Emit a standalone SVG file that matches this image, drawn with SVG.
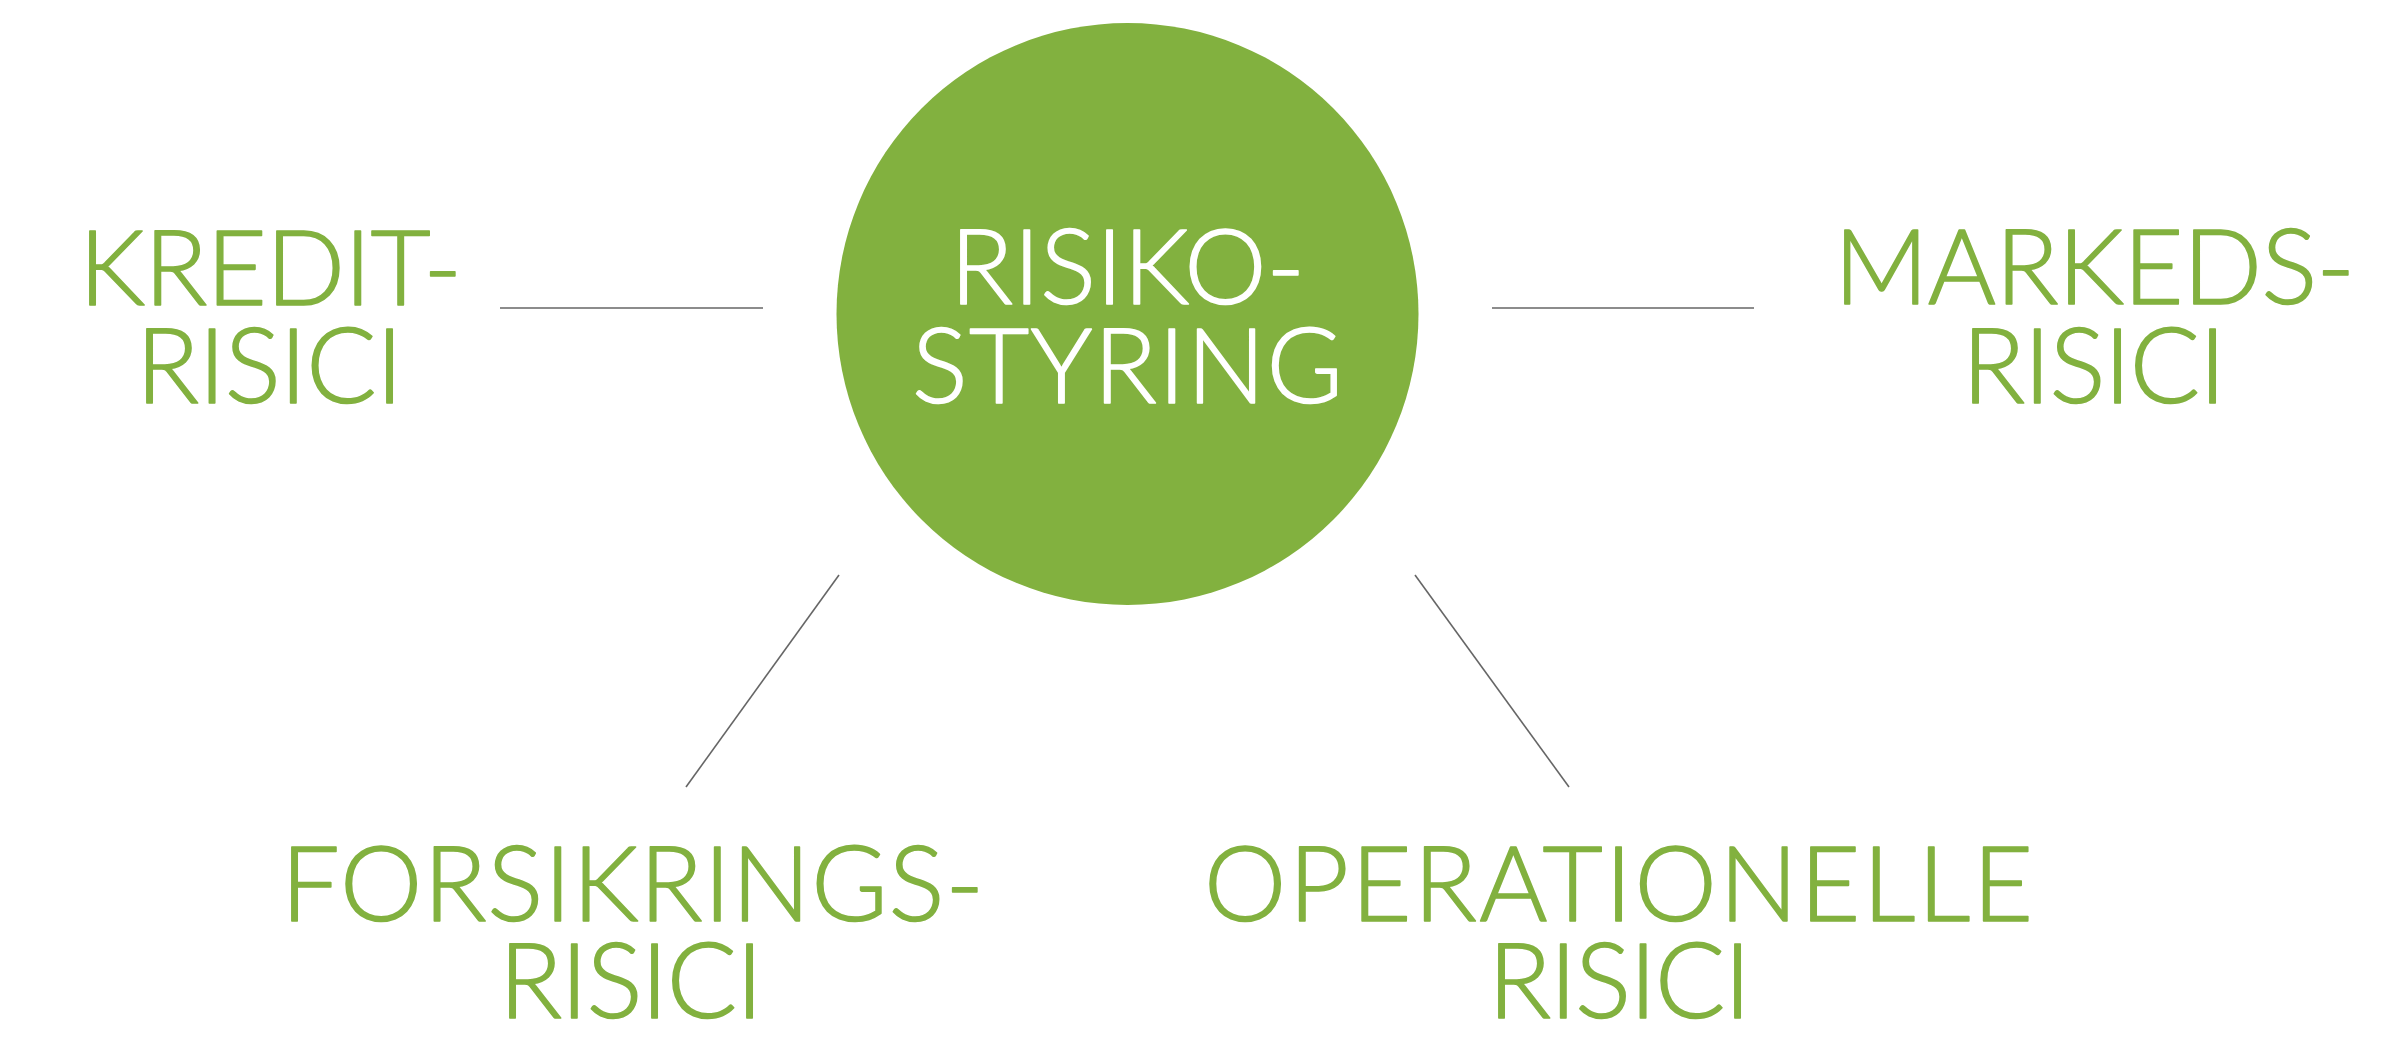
<svg xmlns="http://www.w3.org/2000/svg" width="2396" height="1042" viewBox="0 0 2396 1042">
  <style>
    .lbl { font-family: Lato, "Open Sans", "Liberation Sans", sans-serif; font-weight: 300; font-size: 104px; text-anchor: middle; stroke-width: 1.6; stroke-linejoin: round; }
    .green { fill: #82b13f; stroke: #82b13f; }
    .white { fill: #ffffff; stroke: #ffffff; }
    .conn { stroke: #666666; stroke-width: 1.6; fill: none; }
  </style>
  <rect width="2396" height="1042" fill="#ffffff"/>
  <g id="connectors">
    <line class="conn" x1="500" y1="308" x2="763" y2="308"/>
    <line class="conn" x1="1492" y1="308" x2="1754" y2="308"/>
    <line class="conn" x1="839" y1="575" x2="686" y2="787"/>
    <line class="conn" x1="1415" y1="575" x2="1569" y2="787"/>
  </g>
  <g id="risikostyring">
    <circle cx="1127.5" cy="314" r="291" fill="#82b13f"/>
    <text class="lbl white" x="1127.5" y="304" textLength="355" lengthAdjust="spacing">RISIKO-</text>
    <text class="lbl white" x="1127.5" y="403" textLength="431" lengthAdjust="spacing">STYRING</text>
  </g>
  <g id="kreditrisici">
    <text class="lbl green" x="270.5" y="305" textLength="383" lengthAdjust="spacing">KREDIT-</text>
    <text class="lbl green" x="269.5" y="403" textLength="267" lengthAdjust="spacing">RISICI</text>
  </g>
  <g id="markedsrisici">
    <text class="lbl green" x="2094.5" y="304" textLength="521" lengthAdjust="spacing">MARKEDS-</text>
    <text class="lbl green" x="2094" y="403" textLength="264" lengthAdjust="spacing">RISICI</text>
  </g>
  <g id="forsikringsrisici">
    <text class="lbl green" x="632.5" y="921" textLength="703" lengthAdjust="spacing">FORSIKRINGS-</text>
    <text class="lbl green" x="631" y="1018" textLength="264" lengthAdjust="spacing">RISICI</text>
  </g>
  <g id="operationellerisici">
    <text class="lbl green" x="1618.5" y="921" textLength="829" lengthAdjust="spacing">OPERATIONELLE</text>
    <text class="lbl green" x="1619.5" y="1018" textLength="263" lengthAdjust="spacing">RISICI</text>
  </g>
</svg>
